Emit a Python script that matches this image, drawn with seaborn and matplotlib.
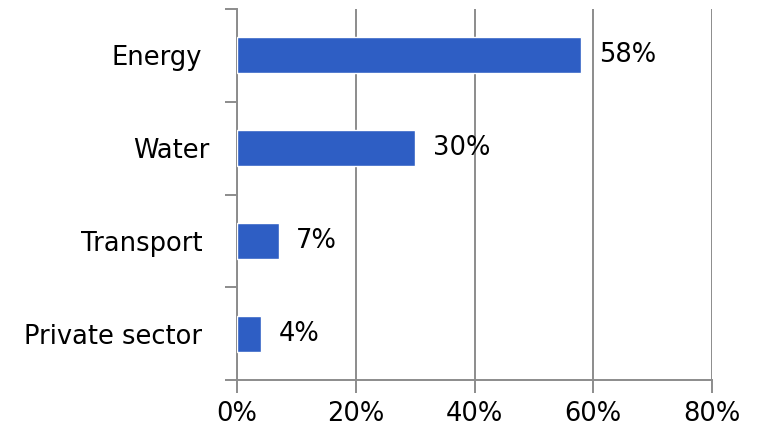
import matplotlib
matplotlib.use("Agg")
import matplotlib.pyplot as plt
import matplotlib.transforms as mtransforms
import seaborn as sns
import pandas as pd
import numpy as np

categories = ["Energy", "Water", "Transport", "Private sector"]
shares = [58, 30, 7, 4]
x_ticks = [0, 20, 40, 60, 80]
x_tick_labels = ["0%", "20%", "40%", "60%", "80%"]

sns.set_theme(style="white")
plt.rcParams["font.family"] = ["DejaVu Sans"]
plt.rcParams["text.color"] = "black"
plt.rcParams["xtick.labelcolor"] = "black"
plt.rcParams["ytick.labelcolor"] = "black"

bar_color = "#2E5EC4"
grid_color = "#8C8C8C"
fs = 18.5

df = pd.DataFrame({"sector": categories, "share": shares})

fig = plt.figure(figsize=(7.57, 4.29), dpi=100)
ax = fig.add_axes([237 / 757, 49 / 429, 475 / 757, 371 / 429])

sns.barplot(data=df, x="share", y="sector", orient="h", color=bar_color,
            width=0.39, saturation=1, ax=ax, zorder=3)

ax.set_xlim(0, 80)
ax.set_ylim(len(categories) - 0.5, -0.5)
ax.set_xticks(x_ticks)
ax.set_xticklabels(x_tick_labels, fontsize=fs, color="black")
ax.set_xlabel("")
ax.set_ylabel("")

# vertical gridlines
ax.xaxis.grid(True, color=grid_color, linewidth=1.4, zorder=0)
ax.set_axisbelow(True)

# y ticks at category boundaries, labels at centres
ax.set_yticks(np.arange(len(categories)))
ax.set_yticklabels(categories, fontsize=fs, color="black")
ax.set_yticks(np.arange(-0.5, len(categories), 1.0), minor=True)
ax.tick_params(axis="y", which="major", length=0, pad=25)
ax.tick_params(axis="y", which="minor", length=9, width=1.4, color=grid_color, left=True)
ax.tick_params(axis="x", which="major", length=9, width=1.4, color=grid_color,
               bottom=True, pad=6)

# the "Water" label sits a little closer to the axis
water_lbl = ax.get_yticklabels()[categories.index("Water")]
water_lbl.set_transform(water_lbl.get_transform()
                        + mtransforms.ScaledTranslation(7 / 100, 0, fig.dpi_scale_trans))

for side in ["top", "right"]:
    ax.spines[side].set_visible(False)
for side in ["left", "bottom"]:
    ax.spines[side].set_color(grid_color)
    ax.spines[side].set_linewidth(1.4)

# value labels beside each bar
for i, v in enumerate(shares):
    ax.text(v + 3.0, i, f"{v}%", va="center", ha="left", fontsize=fs, color="black")

fig.savefig("out.png", dpi=100)
